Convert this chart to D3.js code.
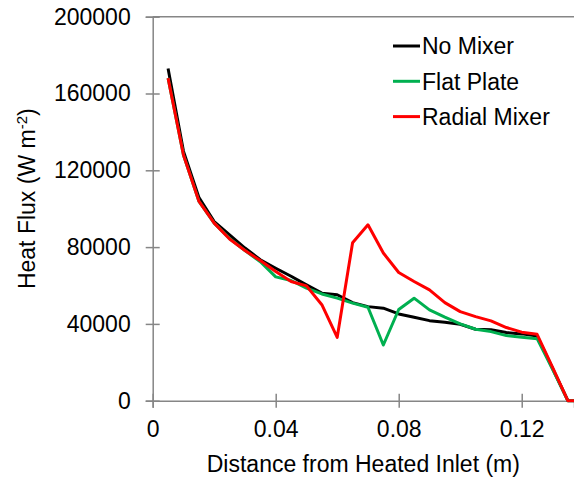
<!DOCTYPE html>
<html>
<head>
<meta charset="utf-8">
<script src="https://cdn.jsdelivr.net/npm/d3@7"></script>
<style>
  body { margin: 0; background: #fff; }
  text { font-family: "Liberation Sans", Arial, sans-serif; fill: #000; }
</style>
</head>
<body>
<div id="chart"></div>
<script>
// distance from heated inlet (m)
const distance = [0.005, 0.01, 0.015, 0.02, 0.025, 0.03, 0.035, 0.04, 0.045, 0.05,
  0.055, 0.06, 0.065, 0.07, 0.075, 0.08, 0.085, 0.09, 0.095, 0.1,
  0.105, 0.11, 0.115, 0.12, 0.125, 0.13, 0.135, 0.14];

const noMixer = [173000, 130000, 106000, 93300, 86400, 79500, 73400, 69000, 64800, 60300,
  56000, 55200, 51100, 49000, 48200, 45200, 43500, 41700, 40900, 39800,
  37200, 36900, 35500, 34800, 33700, 16900, 0, 0];

const flatPlate = [168000, 128000, 104000, 92500, 84500, 78200, 72400, 64500, 62600, 58600,
  55600, 53400, 50800, 48700, 29000, 47500, 53400, 47300, 43500, 40000,
  37200, 36000, 33900, 33100, 32300, 16500, 0, 0];

const radialMixer = [168000, 128000, 104000, 92500, 84200, 78200, 73000, 67300, 62100, 59800,
  50000, 33000, 82300, 91600, 76900, 66800, 62100, 57700, 51100, 46400,
  43800, 41600, 38100, 35700, 34600, 17500, 0, 0];

const seriesNames = ['No Mixer', 'Flat Plate', 'Radial Mixer'];
const seriesColors = ['#000000', '#00b050', '#ff0000'];
const xTicks = [0, 0.04, 0.08, 0.12];
const yTicks = [0, 40000, 80000, 120000, 160000, 200000];

const width = 574;
const height = 477;
const plot = { left: 152.7, right: 574, top: 16.7, bottom: 400.7 };
const axisColor = '#868686';
const fontSize = 23;

const svg = d3.select('#chart')
  .append('svg')
  .attr('width', width)
  .attr('height', height);

const x = d3.scaleLinear().domain([0, 0.137]).range([plot.left, plot.right]);
const y = d3.scaleLinear().domain([0, 200000]).range([plot.bottom, plot.top]);

svg.append('defs').append('clipPath')
  .attr('id', 'plot-clip')
  .append('rect')
  .attr('x', plot.left - 2)
  .attr('y', 0)
  .attr('width', plot.right - plot.left + 2)
  .attr('height', plot.bottom + 2);

// top border line at max value
svg.append('line')
  .attr('x1', plot.left).attr('x2', plot.right)
  .attr('y1', y(200000)).attr('y2', y(200000))
  .attr('stroke', axisColor).attr('stroke-width', 1.5);

// y axis
const yAxis = svg.append('g')
  .attr('transform', `translate(${plot.left},0)`)
  .call(d3.axisLeft(y).tickValues(yTicks).tickSize(7).tickPadding(15).tickFormat(d3.format('d')));
yAxis.select('.domain').attr('stroke', axisColor).attr('stroke-width', 1.5);
yAxis.selectAll('.tick line').attr('stroke', axisColor).attr('stroke-width', 1.5).attr('x2', 7).attr('x1', -7);
yAxis.selectAll('.tick text')
  .attr('font-size', fontSize)
  .attr('font-family', '"Liberation Sans", Arial, sans-serif')
  .attr('fill', '#000');

// x axis
const xAxis = svg.append('g')
  .attr('transform', `translate(0,${plot.bottom})`)
  .call(d3.axisBottom(x).tickValues(xTicks).tickSize(7).tickPadding(13).tickFormat(d => d === 0 ? '0' : d3.format('.2f')(d)));
xAxis.select('.domain').attr('stroke', axisColor).attr('stroke-width', 1.5);
xAxis.selectAll('.tick line').attr('stroke', axisColor).attr('stroke-width', 1.5).attr('y1', -7).attr('y2', 7);
xAxis.selectAll('.tick text')
  .attr('font-size', fontSize)
  .attr('font-family', '"Liberation Sans", Arial, sans-serif')
  .attr('fill', '#000');

// axis titles
svg.append('text')
  .attr('x', (plot.left + 574) / 2)
  .attr('y', 472)
  .attr('text-anchor', 'middle')
  .attr('font-size', fontSize)
  .text('Distance from Heated Inlet (m)');

const yTitle = svg.append('text')
  .attr('transform', `translate(35,${(plot.top + plot.bottom) / 2 - 10}) rotate(-90)`)
  .attr('text-anchor', 'middle')
  .attr('font-size', fontSize);
yTitle.append('tspan').text('Heat Flux (W m');
yTitle.append('tspan').attr('font-size', 15).attr('dy', -8).text('-2');
yTitle.append('tspan').attr('dy', 8).text(')');

// lines
const allSeries = [noMixer, flatPlate, radialMixer];
const line = d3.line()
  .x((d, i) => x(distance[i]))
  .y(d => y(d));

svg.append('g')
  .attr('clip-path', 'url(#plot-clip)')
  .selectAll('path')
  .data(allSeries)
  .enter().append('path')
  .attr('d', d => line(d))
  .attr('fill', 'none')
  .attr('stroke', (d, i) => seriesColors[i])
  .attr('stroke-width', 3)
  .attr('stroke-linejoin', 'round');

// legend
const legend = svg.append('g')
  .selectAll('g')
  .data(seriesNames)
  .enter().append('g')
  .attr('transform', (d, i) => `translate(393,${46 + i * 35.3})`);

legend.append('line')
  .attr('x1', 0).attr('x2', 27)
  .attr('stroke', (d, i) => seriesColors[i])
  .attr('stroke-width', 3);

legend.append('text')
  .attr('x', 29)
  .attr('dy', '0.36em')
  .attr('font-size', fontSize)
  .text(d => d);
</script>
</body>
</html>
